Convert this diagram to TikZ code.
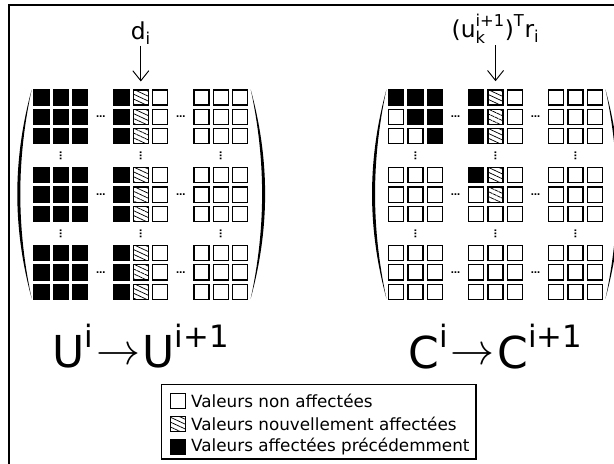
\documentclass[tikz,border=0pt]{standalone}
\usepackage{fix-cm}
\usepackage{amsmath}
\usepackage{fontspec}
\setmainfont{DejaVu Sans}
\usetikzlibrary{positioning,calc,patterns.meta,arrows.meta}

\tikzset{
    cell/.style={
           rectangle,
           draw=black, line width=0.9pt,
           minimum size=11.3pt,
           inner sep=0pt,
           },
    cellW/.style={cell, fill=white},
    cellH/.style={cell, pattern={Lines[angle=-25,distance=3.3pt,line width=0.55pt]}},
    cellB/.style={cell, fill=black},
    dotsmark/.style={inner sep=0pt, font=\bfseries\fontsize{7}{7}\selectfont},
    toplabel/.style={inner sep=1pt, font=\fontsize{17.5}{20}\selectfont},
    biglabel/.style={inner sep=0pt, font=\fontsize{33}{36}\selectfont},
    legtext/.style={inner sep=0pt, anchor=west, font=\fontsize{12.6}{14}\selectfont},
    legbox/.style={rectangle, draw=black, line width=0.8pt},
}

% arrow between the two names, a little above the math axis
\newcommand{\stepto}{\mkern1mu\raisebox{2.5pt}{$\rightarrow$}\mkern1mu}

% one block matrix: #1 name, #2 x offset (px), #3 the 9 rows of cell types
\newcommand{\blockmatrix}[3]{%
    % cells, row by row
    \foreach \row [count=\i from 0] in {#3} {
        \foreach \t [count=\j from 0] in \row {
            \pgfmathsetmacro{\cx}{#2+41.5+80*int(\j/3)+19.3*mod(\j,3)}
            \pgfmathsetmacro{\cy}{97.5+77.8*int(\i/3)+19.3*mod(\i,3)}
            \node[cell\t] (#1-\i-\j) at (\cx,\cy) {};
        }
    }
    % dots between the blocks
    \foreach \i in {1,4,7} {
        \node[dotsmark] (#1-h-\i-a) at ($(#1-\i-2)!.5!(#1-\i-3)$) {\dots};
        \node[dotsmark] (#1-h-\i-b) at ($(#1-\i-5)!.5!(#1-\i-6)$) {\dots};
    }
    \foreach \j in {1,4,7} {
        \node[dotsmark, rotate=90] (#1-v-\j-a) at ($(#1-2-\j)!.5!(#1-3-\j)$) {\dots};
        \node[dotsmark, rotate=90] (#1-v-\j-b) at ($(#1-5-\j)!.5!(#1-6-\j)$) {\dots};
    }
    % parentheses
    \fill (#2+31.7,89.5) .. controls (#2+12.5,160) and (#2+12.5,228) .. (#2+31.7,298.5)
        .. controls (#2+16.5,228) and (#2+16.5,160) .. cycle;
    \fill (#2+250.7,89.5) .. controls (#2+269.9,160) and (#2+269.9,228) .. (#2+250.7,298.5)
        .. controls (#2+265.9,228) and (#2+265.9,160) .. cycle;
}

\begin{document}
\begin{tikzpicture}[x=0.75pt, y=-0.75pt,
    >={Straight Barb[length=7.5pt,width=12pt]}]
    % page and outer frame (cut by the page edges)
    \useasboundingbox (0,0) rectangle (614,464);
    \clip (0,0) rectangle (614,464);
    \draw[line width=0.8pt] (9,5) rectangle (650,500);

    % U matrix
    \blockmatrix{U}{0}{
        {B,B,B,B,H,W,W,W,W},{B,B,B,B,H,W,W,W,W},{B,B,B,B,H,W,W,W,W},
        {B,B,B,B,H,W,W,W,W},{B,B,B,B,H,W,W,W,W},{B,B,B,B,H,W,W,W,W},
        {B,B,B,B,H,W,W,W,W},{B,B,B,B,H,W,W,W,W},{B,B,B,B,H,W,W,W,W}}

    % C matrix
    \blockmatrix{C}{354.75}{
        {B,B,B,B,H,W,W,W,W},{W,B,B,B,H,W,W,W,W},{W,W,B,B,H,W,W,W,W},
        {W,W,W,B,H,W,W,W,W},{W,W,W,W,H,W,W,W,W},{W,W,W,W,W,W,W,W,W},
        {W,W,W,W,W,W,W,W,W},{W,W,W,W,W,W,W,W,W},{W,W,W,W,W,W,W,W,W}}

    % what is written in the new column
    \node[toplabel, above=33pt of U-0-4] (di) {$\text{d}_{\text{i}}$};
    \node[toplabel, above=33pt of C-0-4] (ur)
        {$\text{(u}_{\text{k}}^{\text{i+1}}\text{)}^{\text{T}}\text{r}_{\text{i}}$};
    \draw[->, line width=0.7pt, shorten >=6.1pt] (di) -- (U-0-4);
    \draw[->, line width=0.7pt, shorten >=6.1pt] (ur) -- (C-0-4);

    % names under the matrices
    \node[biglabel, below=18pt of U-8-4] (Ulab)
        {$\text{U}^{\text{i}}\stepto\text{U}^{\text{i+1}}$};
    \node[biglabel, below=18pt of C-8-4] (Clab)
        {$\text{C}^{\text{i}}\stepto\text{C}^{\text{i+1}}$};

    % legend
    \node[legbox, minimum width=235.9pt, minimum height=55.9pt] (legend) at (318.75,421.75) {};
    \node[cellW, below right=6.6pt and 6.8pt of legend.north west] (legW) {};
    \node[cellH, below=5pt of legW] (legH) {};
    \node[cellB, below=5pt of legH] (legB) {};
    \node[legtext, right=3.5pt of legW] (txtW) {Valeurs non affectées};
    \node[legtext, right=3.5pt of legH] (txtH) {Valeurs nouvellement affectées};
    \node[legtext, right=3.5pt of legB] (txtB) {Valeurs affectées précédemment};
\end{tikzpicture}
\end{document}
